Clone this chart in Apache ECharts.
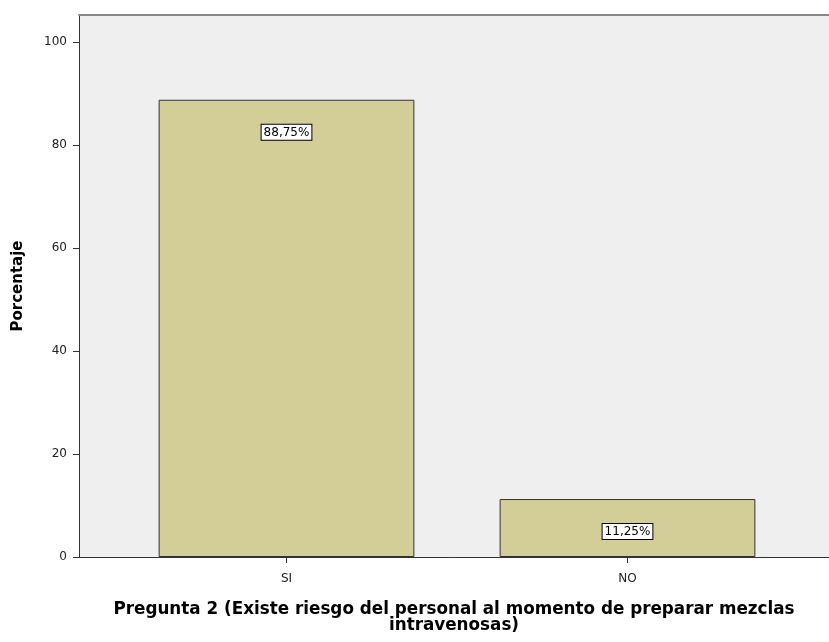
<!DOCTYPE html>
<html>
<head>
<meta charset="utf-8">
<script src="https://cdn.jsdelivr.net/npm/echarts@6/dist/echarts.min.js"></script>
<style>
  html, body { margin: 0; padding: 0; background: #fff; }
  #container { width: 829px; height: 642px; }
</style>
</head>
<body>
<div id="container"></div>
<script type="text/javascript">
    // datos del grafico
    var categorias = ['SI', 'NO'];
    var porcentajes = [88.75, 11.25];
    var etiquetas = ['88,75%', '11,25%'];
    var yMax = 105.2;   // tope del area gris
    var yPaso = 20;

    var fuente = 'DejaVu Sans';
    var dom = document.getElementById('container');
    var myChart = echarts.init(dom);

    var option = {
        animation: false,
        grid: [
            // area de fondo (gris) con eje Y
            { left: 79, right: 0, top: 15, bottom: 85, backgroundColor: '#efefef', show: true, borderWidth: 0 },
            // area de las barras
            { left: 116, right: 31, top: 15, bottom: 85 }
        ],
        xAxis: [
            {
                gridIndex: 0, type: 'category', data: [''], position: 'bottom',
                axisLine: { show: true, lineStyle: { color: '#333', width: 1 } },
                axisTick: { show: false }, axisLabel: { show: false },
                name: 'Pregunta 2 (Existe riesgo del personal al momento de preparar mezclas\nintravenosas)',
                nameLocation: 'middle', nameGap: 45,
                nameTextStyle: { fontFamily: fuente, fontSize: 16.8, fontWeight: 'bold', color: '#000', lineHeight: 16 }
            },
            {
                gridIndex: 0, type: 'category', data: [''], position: 'top',
                axisLine: { show: true, lineStyle: { color: '#888', width: 2 } },
                axisTick: { show: false }, axisLabel: { show: false }
            },
            {
                gridIndex: 1, type: 'category', data: categorias,
                axisLine: { show: false },
                axisTick: { show: true, alignWithLabel: true, length: 6, lineStyle: { color: '#333' } },
                axisLabel: { fontFamily: fuente, fontSize: 12, color: '#222', margin: 16 }
            }
        ],
        yAxis: [
            {
                gridIndex: 0, type: 'value', min: 0, max: yMax, interval: yPaso,
                axisLine: { show: true, lineStyle: { color: '#333', width: 1 } },
                axisTick: { show: true, length: 6, lineStyle: { color: '#333' } },
                axisLabel: { fontFamily: fuente, fontSize: 12, color: '#222', margin: 12, showMaxLabel: false },
                splitLine: { show: false },
                name: 'Porcentaje', nameLocation: 'middle', nameGap: 53, nameRotate: 90,
                nameTextStyle: { fontFamily: fuente, fontSize: 15, fontWeight: 'bold', color: '#000' }
            },
            {
                gridIndex: 1, type: 'value', min: 0, max: yMax, interval: yPaso, show: false,
                splitLine: { show: false }
            }
        ],
        series: [{
            type: 'bar',
            xAxisIndex: 2,
            yAxisIndex: 1,
            data: porcentajes,
            barWidth: '75%',
            itemStyle: { color: '#d3ce97', borderColor: '#333', borderWidth: 1 },
            label: {
                show: true,
                position: 'insideTop',
                distance: 25,
                formatter: function (p) { return etiquetas[p.dataIndex]; },
                fontFamily: fuente, fontSize: 12, color: '#000',
                backgroundColor: '#fff', borderColor: '#000', borderWidth: 1,
                padding: [2, 2, 1, 2]
            }
        }]
    };

    myChart.setOption(option);
</script>
</body>
</html>
